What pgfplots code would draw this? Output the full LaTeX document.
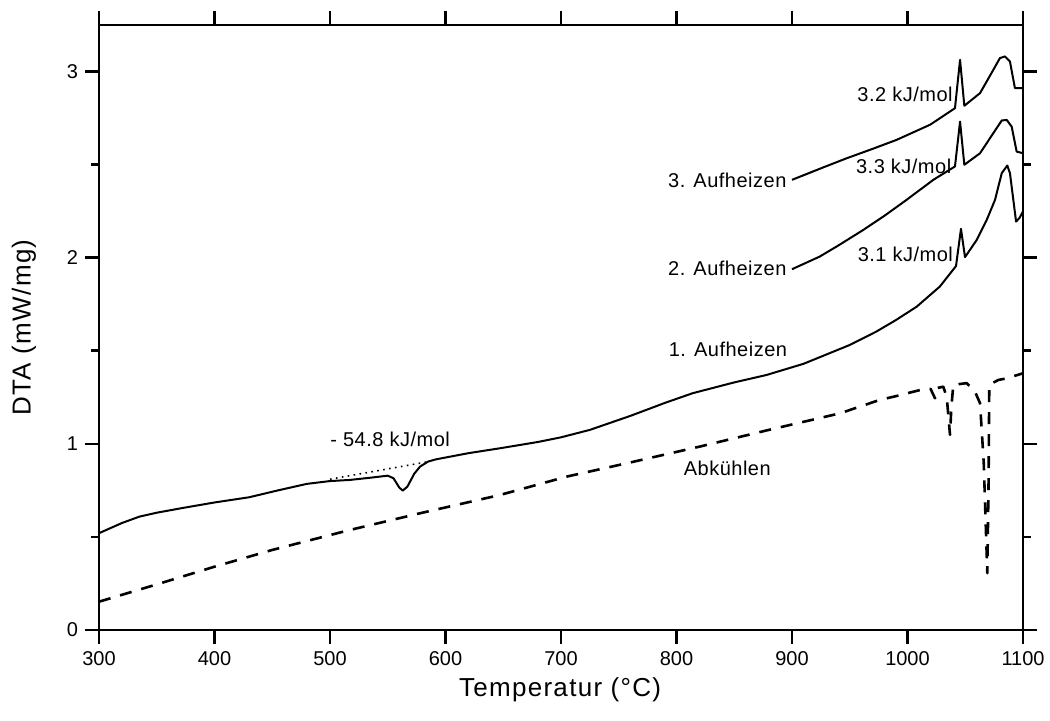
\documentclass[border=0pt]{standalone}
\usepackage{fontspec}
\setmainfont{Liberation Sans}
\newfontfamily\inner{Liberation Sans}[LetterSpace=2.5]
\newfontfamily\lab{Liberation Sans}[LetterSpace=5]
\usepackage{pgfplots}
\pgfplotsset{compat=1.18}
\begin{document}
\begin{tikzpicture}
\begin{axis}[
  scale only axis, width=462pt, height=302.5pt,
  xmin=300, xmax=1100, ymin=0, ymax=3.25,
  xtick={300,400,...,1100}, ytick={0,1,2,3}, minor ytick={0.5,1.5,2.5},
  tick align=outside, major tick length=7pt, minor tick length=4pt,
  every tick/.style={black, line width=1.3pt},
  axis line style={line width=1.3pt},
  xticklabel pos=lower, yticklabel pos=left,
  ticklabel style={font=\fontsize{10}{12}\selectfont},
  /pgf/number format/assume math mode=true,
  /pgf/number format/1000 sep={},
  xlabel={Temperatur (°C)}, ylabel={DTA (mW/mg)},
  label style={font=\lab\fontsize{13}{15}\selectfont},
  xlabel style={at={(axis description cs:0.499,-0.099)}, anchor=center},
  ylabel style={at={(axis description cs:-0.0812,0.5)}, anchor=center},
  every axis plot/.append style={black, line join=round},
]
\coordinate (sw) at (rel axis cs:0,0);
\coordinate (ne) at (rel axis cs:1,1);
% 1. Aufheizen
\addplot[line width=1pt] coordinates {
(300,0.520) (320,0.575) (335,0.609) (350,0.630) (372,0.655) (400,0.685)
(430,0.713) (455,0.750) (480,0.785) (500,0.800) (517,0.806) (535,0.818)
(550,0.829) (555,0.815) (560,0.765) (563,0.749) (567,0.770) (573,0.840)
(578,0.878) (585,0.905) (592,0.917) (620,0.950) (647,0.976) (680,1.010)
(700,1.035) (725,1.075) (760,1.150) (790,1.220) (814,1.272) (850,1.330)
(878,1.370) (910,1.430) (950,1.531) (973,1.603) (990,1.665) (1008,1.737)
(1028,1.845) (1042,1.955) (1046.3,2.155) (1049.8,2.003) (1060,2.096)
(1068.6,2.203) (1075.8,2.311) (1081.6,2.454) (1086.4,2.495) (1088.7,2.454)
(1094,2.194) (1096.8,2.212) (1100,2.248)
};
% 2. Aufheizen
\addplot[line width=1pt] coordinates {
(900,1.938) (924,2.006) (940,2.065) (961.7,2.149) (980,2.225) (999.3,2.311)
(1022.3,2.418) (1041.1,2.490) (1045.5,2.731) (1049.2,2.499) (1062.8,2.561)
(1074.3,2.669) (1081.6,2.737) (1085.9,2.740) (1090.2,2.704) (1094.5,2.570)
(1100,2.561)
};
% 3. Aufheizen
\addplot[line width=1pt] coordinates {
(900,2.418) (925,2.480) (947.3,2.534) (970,2.585) (990.6,2.633)
(1019.5,2.714) (1041.1,2.803) (1045.5,3.063) (1049.2,2.816) (1062.8,2.884)
(1074.3,3.009) (1080,3.072) (1084.4,3.081) (1088.7,3.054) (1093,2.911)
(1100,2.911)
};
% Abkuehlen
\addplot[line width=1.3pt, dash pattern=on 6pt off 5pt] coordinates {
(300,0.152) (350,0.245) (400,0.340) (450,0.430) (517,0.537) (580,0.630)
(647,0.725) (705,0.824) (760,0.900) (820,0.985) (880,1.075) (941.6,1.164)
(976,1.236) (994,1.262) (1005,1.280) (1013.7,1.293) (1020,1.295)
(1023.8,1.245) (1026,1.300) (1031,1.307) (1034,1.250) (1036.8,1.048)
(1038,1.200) (1039.7,1.317) (1051.2,1.326) (1058.4,1.281) (1062.8,1.218)
(1066,0.900) (1069.1,0.305) (1070.2,0.800) (1070.8,1.317) (1078.6,1.343)
(1085.9,1.352) (1100,1.379)
};
% baseline
\addplot[line width=0.8pt, dash pattern=on 0.8pt off 2.2pt] coordinates {(500,0.81) (585,0.904)};
\begin{scope}[every node/.style={font=\inner\fontsize{10}{12}\selectfont, inner sep=0pt}]
\node[anchor=east] at (axis cs:1039.4,2.875) {3.2 kJ/mol};
\node[anchor=east] at (axis cs:1038.2,2.490) {3.3 kJ/mol};
\node[anchor=east] at (axis cs:1039.7,2.020) {3.1 kJ/mol};
\node[anchor=east] at (axis cs:895.5,2.418) {3. Aufheizen};
\node[anchor=east] at (axis cs:895.5,1.945) {2. Aufheizen};
\node[anchor=west] at (axis cs:793,1.505) {1. Aufheizen};
\node[anchor=west] at (axis cs:806,0.869) {Abkühlen};
\node[anchor=west] at (axis cs:500,1.025) {- 54.8 kJ/mol};
\end{scope}
\end{axis}
\pgfresetboundingbox
\path[use as bounding box] ([shift={(-49.5pt,-45.5pt)}]sw) rectangle ([shift={(13.5pt,12.5pt)}]ne);
\end{tikzpicture}
\end{document}
